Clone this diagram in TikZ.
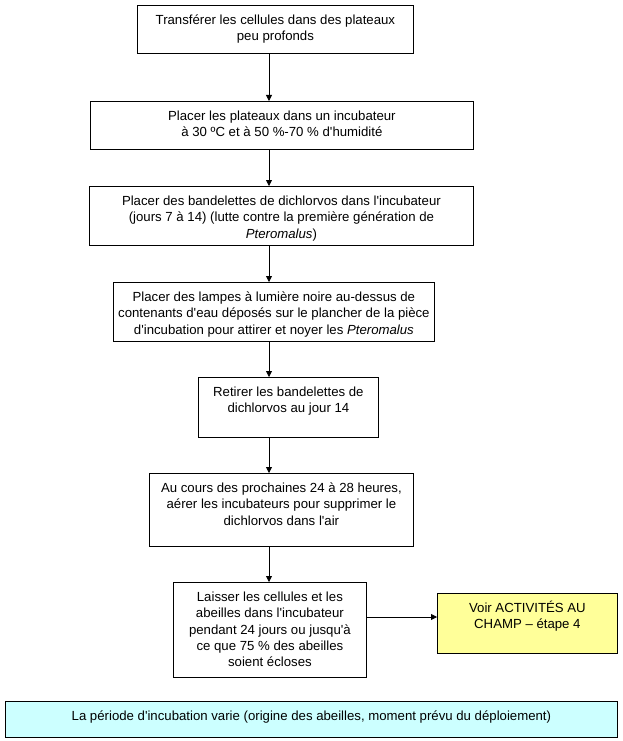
\documentclass[tikz,border=0pt]{standalone}
\usepackage{fontspec}
\setmainfont{Liberation Sans}
\usetikzlibrary{arrows.meta}
\definecolor{boxyellow}{RGB}{255,255,153}
\definecolor{boxcyan}{RGB}{204,255,255}
\newcommand\aq{\textquotesingle}
\tikzset{
  stepbox/.style={draw=black, line width=0.8pt, anchor=north west, inner sep=0pt,
    font=\fontsize{13.2pt}{16.3pt}\selectfont},
  arr/.style={draw=black, line width=0.8pt, -{Triangle[width=6pt,length=6pt]}}
}
% name, left, top, right, bottom, fill, text
\newcommand\flowstep[7]{%
  \node[stepbox, fill=#6] (#1) at (#2pt,-#3pt)
    {\parbox[t][\dimexpr #5pt-#3pt\relax][t]{\dimexpr #4pt-#2pt\relax}{\centering\rule{0pt}{19pt}#7}};}
\begin{document}
\begin{tikzpicture}
\useasboundingbox (0,0) rectangle (622pt,-741pt);
\flowstep{b1}{137}{5}{413}{53}{white}{\mbox{Transférer les cellules dans des plateaux}\\\mbox{peu profonds}}
\flowstep{b2}{90}{101}{473}{149}{white}{\mbox{Placer les plateaux dans un incubateur}\\\mbox{à 30 ºC et à 50 \%-70 \% d\aq humidité}}
\flowstep{b3}{89}{186}{473}{245}{white}{\mbox{Placer des bandelettes de dichlorvos dans l\aq incubateur}\\\mbox{(jours 7 à 14) (lutte contre la première génération de}\\\mbox{\textit{Pteromalus})}}
\flowstep{b4}{113}{282}{434}{341}{white}{\mbox{Placer des lampes à lumière noire au-dessus de}\\\mbox{contenants d\aq eau déposés sur le plancher de la pièce}\\\mbox{d\aq incubation pour attirer et noyer les \textit{Pteromalus}}}
\flowstep{b5}{198}{377}{378}{437}{white}{\mbox{Retirer les bandelettes de}\\\mbox{dichlorvos au jour 14}}
\flowstep{b6}{149}{473}{413}{546}{white}{\mbox{Au cours des prochaines 24 à 28 heures,}\\\mbox{aérer les incubateurs pour supprimer le}\\\mbox{dichlorvos dans l\aq air}}
\flowstep{b7}{173}{582}{366}{677}{white}{\mbox{Laisser les cellules et les}\\\mbox{abeilles dans l\aq incubateur}\\\mbox{pendant 24 jours ou jusqu\aq à}\\\mbox{ce que 75 \% des abeilles}\\\mbox{soient écloses}}
\flowstep{b8}{437}{593}{617}{653}{boxyellow}{\mbox{Voir ACTIVITÉS AU}\\\mbox{CHAMP – étape 4}}
\flowstep{b9}{5}{701}{617}{737}{boxcyan}{\mbox{La période d\aq incubation varie (origine des abeilles, moment prévu du déploiement)}}
\coordinate (ax) at (269pt,0);
\coordinate (ay) at (0,-617pt);
\draw[arr] (b1.south -| ax) -- (b2.north -| ax);
\draw[arr] (b2.south -| ax) -- (b3.north -| ax);
\draw[arr] (b3.south -| ax) -- (b4.north -| ax);
\draw[arr] (b4.south -| ax) -- (b5.north -| ax);
\draw[arr] (b5.south -| ax) -- (b6.north -| ax);
\draw[arr] (b6.south -| ax) -- (b7.north -| ax);
\draw[arr] (b7.east |- ay) -- (b8.west |- ay);
\end{tikzpicture}
\end{document}
